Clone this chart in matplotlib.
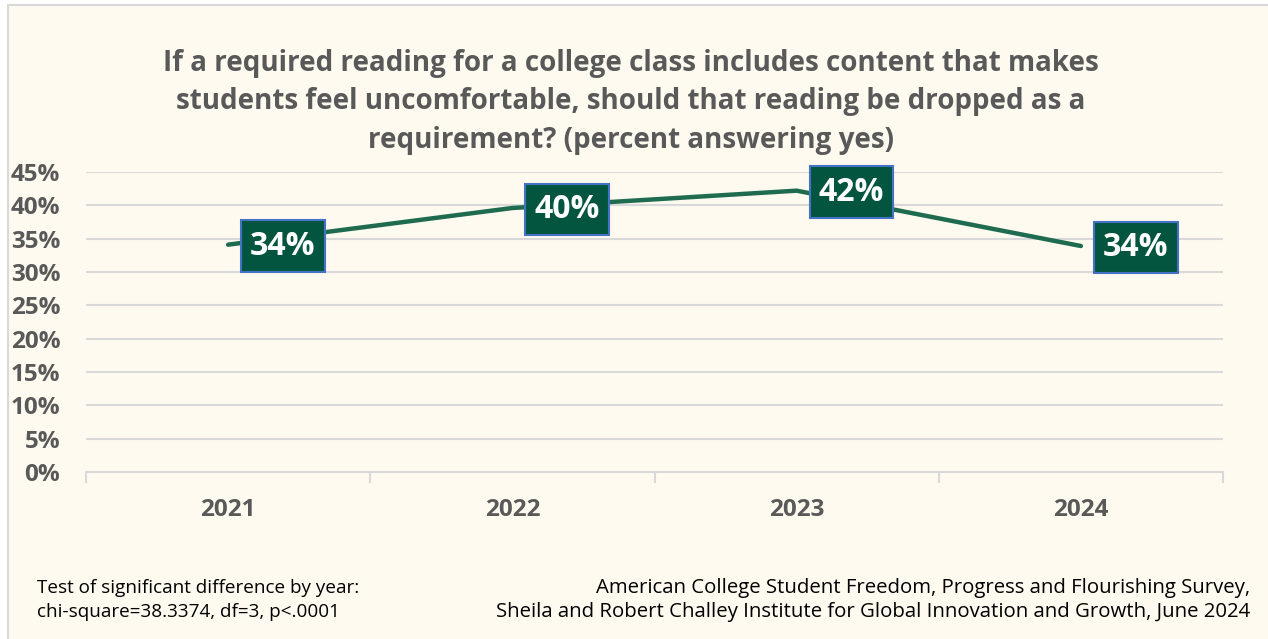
import matplotlib

matplotlib.use("Agg")
import matplotlib.pyplot as plt
from matplotlib.patches import Rectangle
from matplotlib.ticker import FixedLocator, FuncFormatter

# Survey results: percent answering yes, by year
years = ["2021", "2022", "2023", "2024"]
pct_yes = [34.1, 39.6, 42.2, 33.9]
y_ticks = list(range(0, 50, 5))

title = ("If a required reading for a college class includes content that makes\n"
         "students feel uncomfortable, should that reading be dropped as a\n"
         "requirement? (percent answering yes)")
note_left = ("Test of significant difference by year:\n"
             "chi-square=38.3374, df=3, p<.0001")
note_right = ("American College Student Freedom, Progress and Flourishing Survey,\n"
              "Sheila and Robert Challey Institute for Global Innovation and Growth, June 2024")

BG = "#FEFAF0"
GRID = "#D9D9D9"
GRAY_TXT = "#595959"
LINE = "#1E6B50"
BOX = "#03553F"
BOX_EDGE = "#4472C4"

plt.rcParams["font.family"] = ["Open Sans", "DejaVu Sans"]

W, H = 1268, 639
fig = plt.figure(figsize=(W / 100, H / 100), dpi=100, facecolor="white")

# cream chart area with thin border
fig.patches.append(Rectangle((8 / W, -0.05), 1.1, 1 - 5 / H + 0.05, zorder=-1,
                             transform=fig.transFigure, fc=BG, ec=GRID, lw=1.5))

ax = fig.add_axes([86 / W, 1 - 472 / H, (1223 - 86) / W, 300 / H])
ax.set_facecolor("none")
x = list(range(len(years)))
ax.set_xlim(-0.5, len(years) - 0.5)
ax.set_ylim(0, 45)

ax.yaxis.set_major_locator(FixedLocator(y_ticks))
ax.yaxis.set_major_formatter(FuncFormatter(lambda v, _: f"{v:.0f}%"))
ax.grid(axis="y", color=GRID, lw=1.5)
ax.set_axisbelow(True)
for s in ("left", "right", "top"):
    ax.spines[s].set_visible(False)
ax.spines["bottom"].set_color(GRID)
ax.spines["bottom"].set_linewidth(1.5)

ax.set_xticks(x)
ax.set_xticklabels(years)
ax.xaxis.set_minor_locator(FixedLocator([i - 0.5 for i in range(len(years) + 1)]))
ax.tick_params(axis="x", which="major", length=0, pad=19)
ax.tick_params(axis="x", which="minor", length=8, width=1.5, color=GRID)
ax.tick_params(axis="y", length=0, pad=18.5)
for lab in ax.get_xticklabels() + ax.get_yticklabels():
    lab.set_fontsize(17.5)
    lab.set_fontweight("bold")
    lab.set_color(GRAY_TXT)

ax.plot(x, pct_yes, color=LINE, lw=3.2, solid_capstyle="round", zorder=3)

# value callouts sit to the right of each point
for xi, v in zip(x, pct_yes):
    ax.annotate(f"{v:.0f}%", (xi, v), xytext=(39.5, -1), textcoords="offset points",
                ha="center", va="center", fontsize=23, fontweight="bold", color="white",
                bbox=dict(boxstyle="square,pad=0.29", fc=BOX, ec=BOX_EDGE, lw=1.5),
                zorder=4)

fig.text(631 / W, 1 - 102 / H, title, ha="center", va="center", fontsize=20,
         fontweight="bold", color=GRAY_TXT, linespacing=1.43)

fig.text(37 / W, 1 - 600 / H, note_left, ha="left", va="center", fontsize=13.6,
         color="black", linespacing=1.38)
fig.text(1250 / W, 1 - 600 / H, note_right, ha="right", va="center", fontsize=14.7,
         color="black", linespacing=1.32)

fig.savefig("out.png", dpi=100, facecolor=fig.get_facecolor())
